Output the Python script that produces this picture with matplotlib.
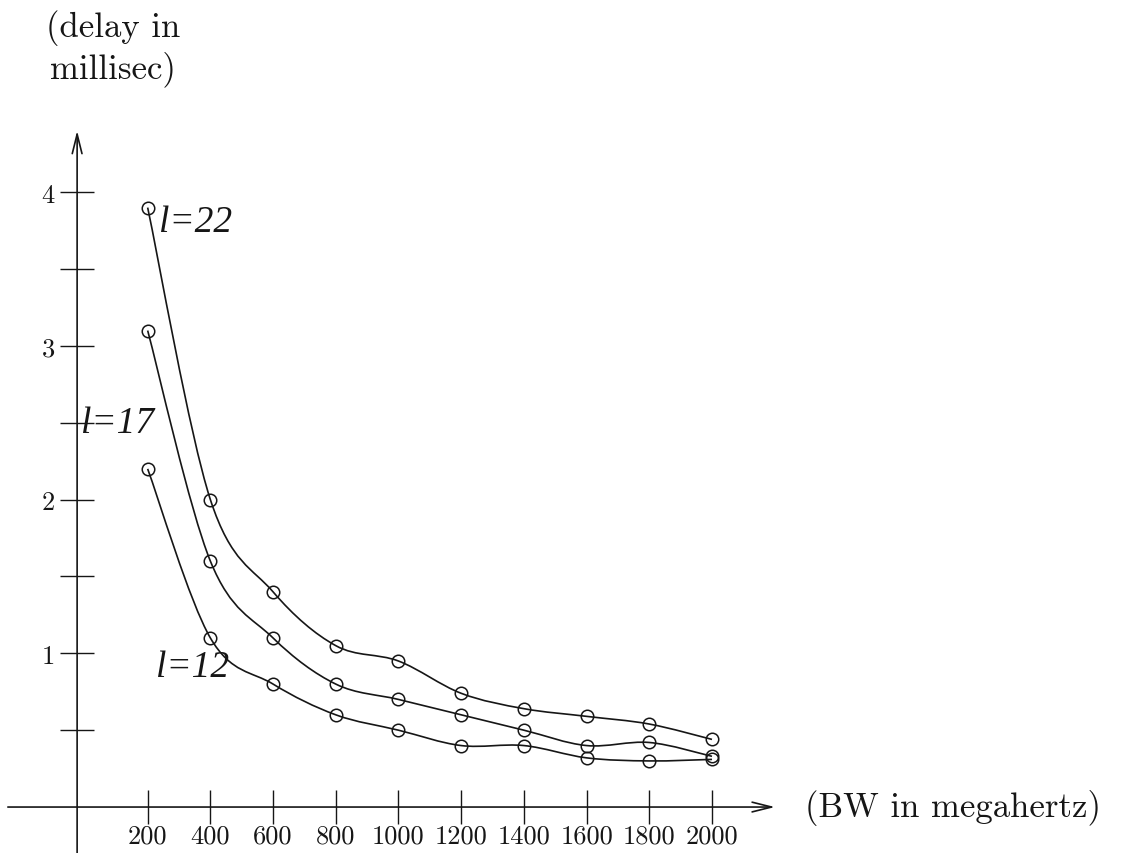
import numpy as np
import matplotlib.pyplot as plt
from matplotlib.path import Path
from matplotlib.patches import PathPatch

# bandwidth (MHz) and delay (ms)
bw = [200, 400, 600, 800, 1000, 1200, 1400, 1600, 1800, 2000]
delay_l22 = [3.9, 2.0, 1.4, 1.05, 0.95, 0.74, 0.64, 0.59, 0.54, 0.44]
delay_l17 = [3.1, 1.6, 1.1, 0.8, 0.7, 0.6, 0.5, 0.4, 0.42, 0.33]
delay_l12 = [2.2, 1.1, 0.8, 0.6, 0.5, 0.4, 0.4, 0.32, 0.3, 0.31]
curve_names = ["l=22", "l=17", "l=12"]
name_pos = [(236, 3.81), (-12, 2.5), (226, 0.91)]
y_major = [1, 2, 3, 4]
y_minor = [0.5, 1.5, 2.5, 3.5]

plt.rcParams["font.family"] = "cmr10"
plt.rcParams["axes.formatter.use_mathtext"] = True
ink = "#161616"


def smooth_path(xs, ys):
    # catmull-rom through the measured points, as bezier segments
    pts = np.column_stack([xs, ys]).astype(float)
    ext = np.vstack([pts[0], pts, pts[-1]])
    verts = [pts[0]]
    codes = [Path.MOVETO]
    for i in range(len(pts) - 1):
        p0, p1, p2, p3 = ext[i], ext[i + 1], ext[i + 2], ext[i + 3]
        verts += [p1 + (p2 - p0) / 6, p2 - (p3 - p1) / 6, p2]
        codes += [Path.CURVE4] * 3
    return Path(verts, codes)


fig = plt.figure(figsize=(11.23, 8.54), dpi=100)
ax = fig.add_axes([0, 0, 1, 1])
ax.set_xlim(-271, 3311)
ax.set_ylim(-0.299, 5.257)
for s in ax.spines.values():
    s.set_visible(False)
ax.spines["left"].set_position(("data", -25))
ax.spines["bottom"].set_position(("data", 0))

# axes drawn as arrows
arrow = dict(arrowstyle="->,head_length=1.4,head_width=0.35", lw=1.2, color=ink,
             shrinkA=0, shrinkB=0, mutation_scale=10)
ax.annotate("", xy=(2201, 0), xytext=(-246, 0), arrowprops=arrow)
ax.annotate("", xy=(-25, 4.40), xytext=(-25, -0.3), arrowprops=arrow)

ax.set_xticks(bw)
ax.set_xticklabels([str(b) for b in bw])
ax.set_yticks(y_major)
ax.set_yticklabels([str(v) for v in y_major])
ax.set_yticks(y_minor, minor=True)
ax.tick_params(axis="x", direction="inout", length=24, width=1.0, color=ink,
               labelsize=19, pad=0, labelcolor=ink)
ax.tick_params(axis="y", which="both", direction="inout", length=24, width=1.0,
               color=ink, labelsize=19, pad=4, labelcolor=ink)

for ys in [delay_l22, delay_l17, delay_l12]:
    ax.add_patch(PathPatch(smooth_path(bw, ys), fill=False, lw=1.2, edgecolor=ink))
    ax.plot(bw, ys, "o", ms=9, mfc="none", mec=ink, mew=1.1)

for name, (tx, ty) in zip(curve_names, name_pos):
    ax.text(tx, ty, name, family="Liberation Serif", style="italic", fontsize=27,
            ha="left", va="center", color=ink)

ax.text(89, 5.19, "(delay in\nmillisec)", ha="center", va="top", fontsize=25,
        multialignment="center", color=ink)
ax.text(2297, 0, "(BW in megahertz)", ha="left", va="center", fontsize=25, color=ink)

fig.savefig("out.png", dpi=100, facecolor="white")
